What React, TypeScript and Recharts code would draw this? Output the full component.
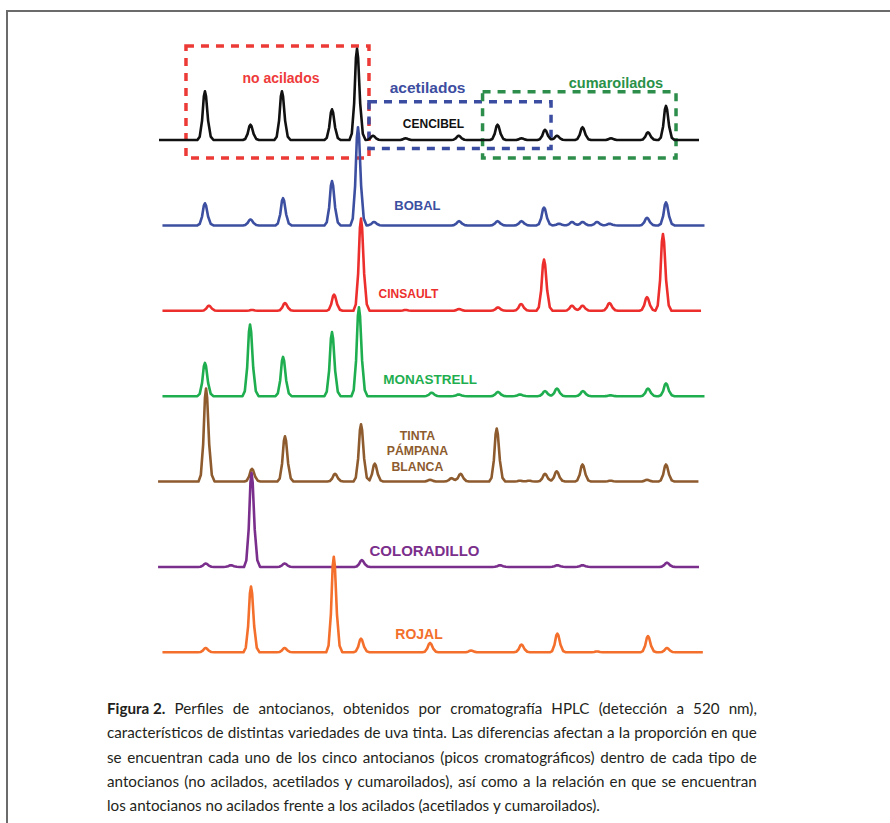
import React from 'react';
import { LineChart, Line, XAxis, YAxis, ReferenceArea, ReferenceDot } from 'recharts';

// ---------- DATA (retention time in min, peak height in mAU-like units) ----------
const varietyNames = ['CENCIBEL', 'BOBAL', 'CINSAULT', 'MONASTRELL', 'TINTA PÁMPANA BLANCA', 'COLORADILLO', 'ROJAL'];
const baselineOffsets = [600, 500, 400, 300, 200, 100, 0];
const runStart = [0.22, 0.47, 0.47, 0.47, 0.15, 0.15, 0.47];
const runEnd = [39.49, 39.89, 39.64, 39.89, 39.45, 39.49, 39.77];

const cencibelPeaks: [number, number][] = [
  [3.56, 57], [6.87, 18], [9.16, 57], [12.8, 36], [14.62, 107], [15.78, 5], [18.15, 2], [22.01, 5],
  [24.84, 18], [26.58, 2], [28.29, 12], [29.16, 5], [31.02, 15], [33.09, 2], [35.78, 9], [37.09, 40],
];
const bobalPeaks: [number, number][] = [
  [3.56, 26], [6.87, 7], [9.24, 32], [12.8, 52], [14.69, 115], [15.85, 4], [22.04, 5], [24.84, 5],
  [26.58, 5], [28.22, 21], [29.31, 2], [30.25, 4], [31.02, 4], [32.07, 4], [32.98, 2], [35.71, 9], [37.09, 27],
];
const cinsaultPeaks: [number, number][] = [
  [3.85, 6], [6.98, 1], [9.38, 9], [12.95, 19], [14.91, 108], [18.15, 1], [22.04, 2], [24.87, 4],
  [26.55, 8], [28.22, 60], [30.25, 6], [31.02, 6], [32.98, 9], [35.71, 16], [36.87, 90],
];
const monastrellPeaks: [number, number][] = [
  [3.56, 39], [6.84, 84], [9.24, 46], [12.8, 75], [14.76, 104], [20.04, 4], [22.01, 2], [24.87, 5],
  [26.47, 2], [28.29, 6], [29.16, 9], [31.05, 6], [33.05, 1], [35.78, 9], [37.09, 15],
];
const tintaPeaks: [number, number][] = [
  [3.64, 109], [6.98, 15], [9.38, 53], [13.02, 9], [14.91, 67], [15.91, 21], [19.93, 2], [21.49, 4],
  [22.15, 9], [24.78, 62], [26.47, 1], [27.13, 1], [28.29, 9], [29.14, 12], [31.02, 20], [33.05, 1],
  [35.71, 2], [37.09, 20],
];
const coloradilloPeaks: [number, number][] = [
  [3.61, 4], [5.45, 2], [6.95, 110], [9.35, 4], [14.97, 8], [25.02, 2], [29.19, 2], [31.02, 2], [37.16, 5],
];
const rojalPeaks: [number, number][] = [
  [3.61, 5], [6.91, 77], [9.35, 5], [12.93, 112], [14.91, 16], [19.93, 11], [22.91, 2], [26.58, 9],
  [29.19, 22], [32.07, 1], [35.78, 19], [37.16, 5],
];
const allPeaks = [cencibelPeaks, bobalPeaks, cinsaultPeaks, monastrellPeaks, tintaPeaks, coloradilloPeaks, rojalPeaks];

const groupNames = ['no acilados', 'acetilados', 'cumaroilados'];
const groupTimeRange: [number, number][] = [[2.18, 15.49], [15.49, 28.73], [23.75, 37.82]];
const groupValueRange: [number, number][] = [[578.9, 710.1], [590.1, 644.9], [578.9, 656.6]];

const captionLines = [
  'Perfiles de antocianos, obtenidos por cromatografía HPLC (detección a 520 nm),',
  'característicos de distintas variedades de uva tinta. Las diferencias afectan a la proporción en que',
  'se encuentran cada uno de los cinco antocianos (picos cromatográficos) dentro de cada tipo de',
  'antocianos (no acilados, acetilados y cumaroilados), así como a la relación en que se encuentran',
  'los antocianos no acilados frente a los acilados (acetilados y cumaroilados).',
];

// ---------- STYLES / LAYOUT ----------
const traceColors = ['#111111', '#3c4fa0', '#ec2f2d', '#1fae4f', '#8d5b2e', '#7b2f8c', '#f36f2b'];
const groupColors = ['#ec3b36', '#3b4da0', '#2d8d4a'];
const groupTextColors = ['#ee3a3a', '#3d4d9f', '#2a9148'];
const groupLabelPos: [number, number][] = [[9.09, 673], [19.75, 661], [33.45, 667]];
const groupLabelSize = [14, 15.5, 14.5];
const nameLabelPos: [number, number][][] = [
  [[20.18, 618.8]], [[19.01, 523]], [[18.36, 419.7]], [[19.93, 320]],
  [[19.01, 253.3], [19.01, 235.8], [19.01, 217]], [[19.53, 118.6]], [[19.13, 21.4]],
];
const nameLabelSize = [12, 13, 12, 13.5, 12.3, 15, 14];
const FONT = '"Liberation Sans", Arial, sans-serif';

// peak profile stencil: [time offset, fraction of height]
const peakShape: [number, number][] = [
  [-0.55, 0], [-0.38, 0.07], [-0.21, 0.4], [-0.08, 0.9], [0, 1], [0.08, 0.9], [0.23, 0.4], [0.42, 0.07], [0.62, 0],
];

function shapeAt(d: number): number {
  if (d <= peakShape[0][0] || d >= peakShape[peakShape.length - 1][0]) return 0;
  for (let i = 0; i < peakShape.length - 1; i++) {
    const [a, fa] = peakShape[i];
    const [b, fb] = peakShape[i + 1];
    if (d >= a && d <= b) return fa + ((d - a) / (b - a)) * (fb - fa);
  }
  return 0;
}

function buildTrace(peaks: [number, number][], base: number, start: number, end: number) {
  const times = new Set<number>([start, end]);
  peaks.forEach(([tp]) =>
    peakShape.forEach(([dt]) => {
      const t = Math.round((tp + dt) * 1000) / 1000;
      if (t > start && t < end) times.add(t);
    })
  );
  return [...times]
    .sort((a, b) => a - b)
    .map((t) => ({ t, y: base + peaks.reduce((s, [tp, h]) => s + h * shapeAt(t - tp), 0) }));
}

const traces = allPeaks.map((p, i) => buildTrace(p, baselineOffsets[i], runStart[i], runEnd[i]));

export default function App() {
  const nameLines = varietyNames.map((n) => (n === 'TINTA PÁMPANA BLANCA' ? ['TINTA', 'PÁMPANA', 'BLANCA'] : [n]));
  return (
    <div style={{ position: 'absolute', left: 0, top: 0, width: 890, height: 823, background: '#fff', overflow: 'hidden' }}>
      <div style={{ position: 'absolute', left: 6, top: 10, width: 884, height: 2, background: '#6b6b6b' }} />
      <div style={{ position: 'absolute', left: 6, top: 10, width: 2, height: 813, background: '#6b6b6b' }} />
      <div style={{ position: 'absolute', left: 0, top: 0 }}>
        <LineChart width={890} height={823} margin={{ top: 37.6, right: 184, bottom: 153.6, left: 156 }}>
          <XAxis type="number" dataKey="t" domain={[0, 40]} hide allowDataOverflow />
          <YAxis type="number" domain={[-20, 720]} hide allowDataOverflow />
          {traces.map((d, i) => (
            <Line
              key={varietyNames[i]}
              data={d}
              dataKey="y"
              type="linear"
              stroke={traceColors[i]}
              strokeWidth={2.6}
              strokeLinejoin="round"
              dot={false}
              activeDot={false}
              isAnimationActive={false}
            />
          ))}
          {groupNames.map((g, i) => (
            <ReferenceArea
              key={g}
              x1={groupTimeRange[i][0]}
              x2={groupTimeRange[i][1]}
              y1={groupValueRange[i][0]}
              y2={groupValueRange[i][1]}
              fill="none"
              fillOpacity={0}
              stroke={groupColors[i]}
              strokeWidth={3.5}
              strokeDasharray="8 7"
              ifOverflow="visible"
            />
          ))}
          {groupNames.map((g, i) => (
            <ReferenceDot
              key={'gl' + g}
              x={groupLabelPos[i][0]}
              y={groupLabelPos[i][1]}
              r={0}
              stroke="none"
              fill="none"
              ifOverflow="visible"
              label={{ value: g, position: 'center', fill: groupTextColors[i], fontSize: groupLabelSize[i], fontWeight: 'bold', fontFamily: FONT }}
            />
          ))}
          {nameLines.flatMap((lines, i) =>
            lines.map((txt, j) => (
              <ReferenceDot
                key={'nl' + i + '-' + j}
                x={nameLabelPos[i][j][0]}
                y={nameLabelPos[i][j][1]}
                r={0}
                stroke="none"
                fill="none"
                ifOverflow="visible"
                label={{ value: txt, position: 'center', fill: traceColors[i], fontSize: nameLabelSize[i], fontWeight: 'bold', fontFamily: FONT }}
              />
            ))
          )}
        </LineChart>
      </div>
      {captionLines.map((line, i) => {
        const words = line.split(' ');
        const last = i === captionLines.length - 1;
        return (
          <div
            key={i}
            style={{
              position: 'absolute',
              left: 107,
              top: 696 + i * 24.3,
              width: 650,
              height: 24,
              lineHeight: '24px',
              fontFamily: 'Lato, "Open Sans", sans-serif',
              fontSize: 15.2,
              color: '#231f20',
              display: 'flex',
              justifyContent: last ? 'flex-start' : 'space-between',
              whiteSpace: 'nowrap',
            }}
          >
            {i === 0 && <span style={{ fontWeight: 'bold' }}>Figura 2.</span>}
            {words.map((w, k) => (
              <span key={k} style={{ marginRight: last ? '0.25em' : 0 }}>{w}</span>
            ))}
          </div>
        );
      })}
    </div>
  );
}
